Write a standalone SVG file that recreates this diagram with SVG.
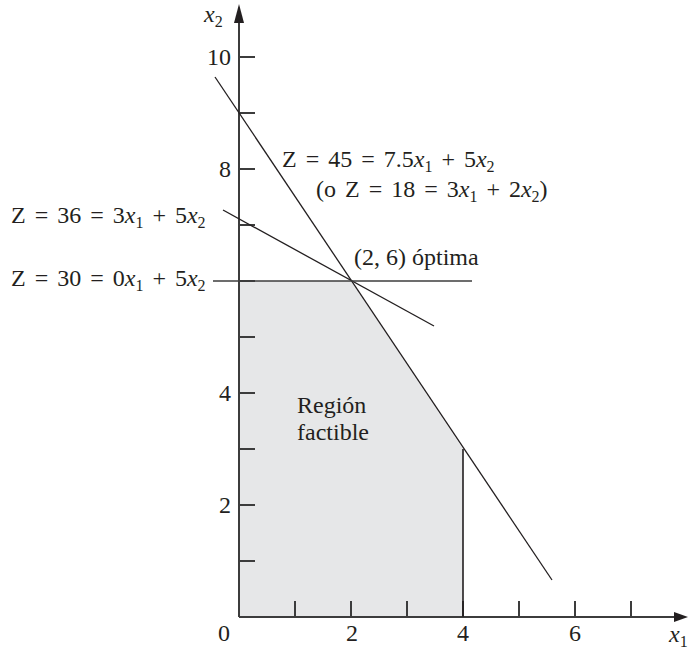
<svg xmlns="http://www.w3.org/2000/svg" width="688" height="650" viewBox="0 0 688 650">
<style>
text { font-family: "Liberation Serif", "Times New Roman", Times, serif; font-size: 24px; fill: #231f20; }
.eq { word-spacing: 3px; }
.i { font-style: italic; }
.s { font-size: 16px; }
.ax { stroke: #3c3c3c; stroke-width: 2; fill: none; }
.tk { stroke: #3c3c3c; stroke-width: 2; fill: none; }
.ln { stroke: #231f20; stroke-width: 1.3; fill: none; }
</style>
<rect width="688" height="650" fill="#ffffff"/>
<g id="region">
<polygon points="239,617 239,281 351,281 463,449 463,617" fill="#e6e7e8"/>
<text x="297" y="413">Región</text>
<text x="297" y="440">factible</text>
</g>
<g id="axes">
<line class="ax" x1="239" y1="617" x2="239" y2="20"/>
<polygon points="239,4 234,23 244,23" fill="#231f20"/>
<line class="ax" x1="239" y1="617" x2="676" y2="617"/>
<polygon points="688,617 674,612 674,622" fill="#231f20"/>
<g class="tk">
<line x1="239" y1="617" x2="255" y2="617"/>
<line x1="239" y1="561" x2="255" y2="561"/>
<line x1="239" y1="505" x2="255" y2="505"/>
<line x1="239" y1="449" x2="255" y2="449"/>
<line x1="239" y1="393" x2="255" y2="393"/>
<line x1="239" y1="337" x2="255" y2="337"/>
<line x1="239" y1="281" x2="255" y2="281"/>
<line x1="239" y1="225" x2="255" y2="225"/>
<line x1="239" y1="169" x2="255" y2="169"/>
<line x1="239" y1="113" x2="255" y2="113"/>
<line x1="239" y1="57" x2="255" y2="57"/>
<line x1="239" y1="601" x2="239" y2="617"/>
<line x1="295" y1="601" x2="295" y2="617"/>
<line x1="351" y1="601" x2="351" y2="617"/>
<line x1="407" y1="601" x2="407" y2="617"/>
<line x1="463" y1="601" x2="463" y2="617"/>
<line x1="519" y1="601" x2="519" y2="617"/>
<line x1="575" y1="601" x2="575" y2="617"/>
<line x1="631" y1="601" x2="631" y2="617"/>
</g>
<text x="231" y="65" text-anchor="end">10</text>
<text x="231" y="177" text-anchor="end">8</text>
<text x="231" y="401" text-anchor="end">4</text>
<text x="231" y="513" text-anchor="end">2</text>
<text x="224" y="641" text-anchor="middle">0</text>
<text x="352" y="641" text-anchor="middle">2</text>
<text x="463" y="641" text-anchor="middle">4</text>
<text x="575" y="641" text-anchor="middle">6</text>
<text x="204" y="22"><tspan class="i">x</tspan><tspan class="s" dy="5">2</tspan></text>
<text x="669" y="642"><tspan class="i">x</tspan><tspan class="s" dy="5">1</tspan></text>
</g>
<g id="connectors">
<line class="ln" x1="215" y1="77" x2="552" y2="580"/>
<line class="ln" x1="223" y1="210" x2="434" y2="326"/>
<line class="ax" x1="213" y1="281" x2="472" y2="281" style="stroke-width:1.6"/>
<line class="ln" x1="463" y1="449" x2="463" y2="617" style="stroke-width:1.6"/>
</g>
<g id="label-z45">
<text class="eq" x="282" y="167">Z = 45 = 7.5<tspan class="i">x</tspan><tspan class="s" dy="5">1</tspan><tspan dy="-5"> + 5</tspan><tspan class="i">x</tspan><tspan class="s" dy="5">2</tspan></text>
<text class="eq" x="316" y="197">(o Z = 18 = 3<tspan class="i">x</tspan><tspan class="s" dy="5">1</tspan><tspan dy="-5"> + 2</tspan><tspan class="i">x</tspan><tspan class="s" dy="5">2</tspan><tspan dy="-5">)</tspan></text>
</g>
<g id="label-opt">
<text x="354" y="265">(2, 6) óptima</text>
</g>
<g id="label-z36">
<text class="eq" x="11" y="223">Z = 36 = 3<tspan class="i">x</tspan><tspan class="s" dy="5">1</tspan><tspan dy="-5"> + 5</tspan><tspan class="i">x</tspan><tspan class="s" dy="5">2</tspan></text>
</g>
<g id="label-z30">
<text class="eq" x="11" y="286">Z = 30 = 0<tspan class="i">x</tspan><tspan class="s" dy="5">1</tspan><tspan dy="-5"> + 5</tspan><tspan class="i">x</tspan><tspan class="s" dy="5">2</tspan></text>
</g>
</svg>
